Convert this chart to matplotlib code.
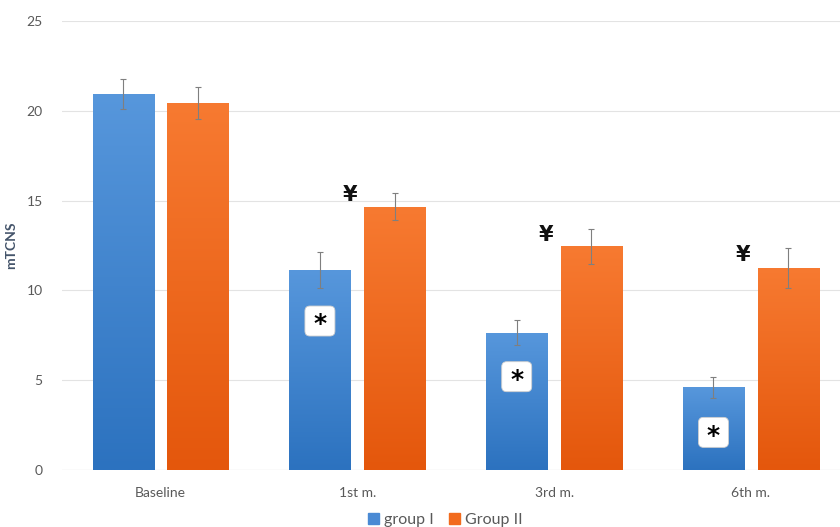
import matplotlib
matplotlib.use("Agg")
import matplotlib.pyplot as plt
import numpy as np
from matplotlib.colors import LinearSegmentedColormap
from matplotlib.patches import FancyBboxPatch, Patch
from matplotlib.transforms import ScaledTranslation

plt.rcParams['font.family'] = ['Lato', 'DejaVu Sans']

categories = ["Baseline", "1st m.", "3rd m.", "6th m."]
group1 = [20.95, 11.15, 7.65, 4.6]
group1_err = [0.85, 1.0, 0.7, 0.6]
group2 = [20.45, 14.65, 12.45, 11.25]
group2_err = [0.9, 0.75, 0.95, 1.1]
series_names = ["group I", "Group II"]
star_y = [None, 8.3, 5.2, 2.1]
yen_y = [None, 15.3, 13.1, 12.0]

fig = plt.figure(figsize=(8.4, 5.27), dpi=100)
ax = fig.add_axes([0.074, 0.108, 0.93, 0.852])

x = np.arange(len(categories))
w = 0.31
off = 0.19

blue_cmap = LinearSegmentedColormap.from_list("b", ["#2C72BF", "#5797DC"])
orange_cmap = LinearSegmentedColormap.from_list("o", ["#E4570C", "#F77A31"])
grad = np.linspace(0, 1, 256).reshape(-1, 1)

def gbar(xc, h, cmap):
    bars = ax.bar(xc, h, w, color="none", zorder=2)
    for b in bars:
        x0 = b.get_x(); x1 = x0 + b.get_width(); top = b.get_height()
        im = ax.imshow(grad, cmap=cmap, origin="lower", aspect="auto",
                       extent=[x0, x1, 0, top], zorder=2)
        im.set_clip_path(b)
    return bars

b1 = gbar(x - off, group1, blue_cmap)
b2 = gbar(x + off, group2, orange_cmap)
ax.errorbar(x - off, group1, yerr=group1_err, fmt="none", ecolor="#7F7F7F",
            elinewidth=0.8, capsize=2.5, capthick=0.8, zorder=3)
ax.errorbar(x + off, group2, yerr=group2_err, fmt="none", ecolor="#7F7F7F",
            elinewidth=0.8, capsize=2.5, capthick=0.8, zorder=3)

for i in range(len(categories)):
    if star_y[i] is not None:
        tr = fig.dpi_scale_trans + ScaledTranslation(x[i] - off, star_y[i], ax.transData)
        box = FancyBboxPatch((-0.15, -0.15), 0.30, 0.30,
                             boxstyle="round,pad=0,rounding_size=0.05",
                             fc="white", ec="#CFCFCF", lw=0.6, transform=tr, zorder=4)
        ax.add_patch(box)
        ax.text(x[i] - off, star_y[i], "*", ha="center", va="center_baseline",
                fontsize=18, fontweight="bold", color="black", zorder=5,
                family="DejaVu Sans",
                transform=ax.transData + ScaledTranslation(0, -0.5 / 72, fig.dpi_scale_trans))
    if yen_y[i] is not None:
        ax.text(x[i] - 0.04, yen_y[i], "¥", ha="center", va="center", fontsize=15,
                fontweight="bold", color="#111111", zorder=5, family="DejaVu Sans")

ax.set_xlim(-0.5, 3.47)
ax.set_ylim(0, 25)
ax.set_yticks([0, 5, 10, 15, 20, 25])
ax.set_xticks(x)
ax.set_xticklabels(categories)
ax.grid(axis="y", color="#E3E3E3", lw=0.8, zorder=0)
ax.set_axisbelow(True)
for s in ax.spines.values():
    s.set_visible(False)
ax.axhline(0, color="#D0D0D0", lw=0.8, zorder=1)
ax.tick_params(length=0, labelsize=10, labelcolor="#595959", pad=12)
ax.tick_params(axis="y", pad=14)
ax.set_ylabel("mTCNS", fontsize=10, fontweight="bold", color="#44546A")
ax.yaxis.set_label_coords(-0.058, 0.5)

handles = [Patch(color="#4A8AD4"), Patch(color="#F26B1D")]
fig.legend(handles, series_names, loc="lower center", ncol=2, frameon=False,
           bbox_to_anchor=(0.53, -0.028), fontsize=11.5, handlelength=0.7,
           handleheight=0.7, handletextpad=0.3, columnspacing=1.0,
           labelcolor="#595959")

fig.savefig("out.png", dpi=100)
